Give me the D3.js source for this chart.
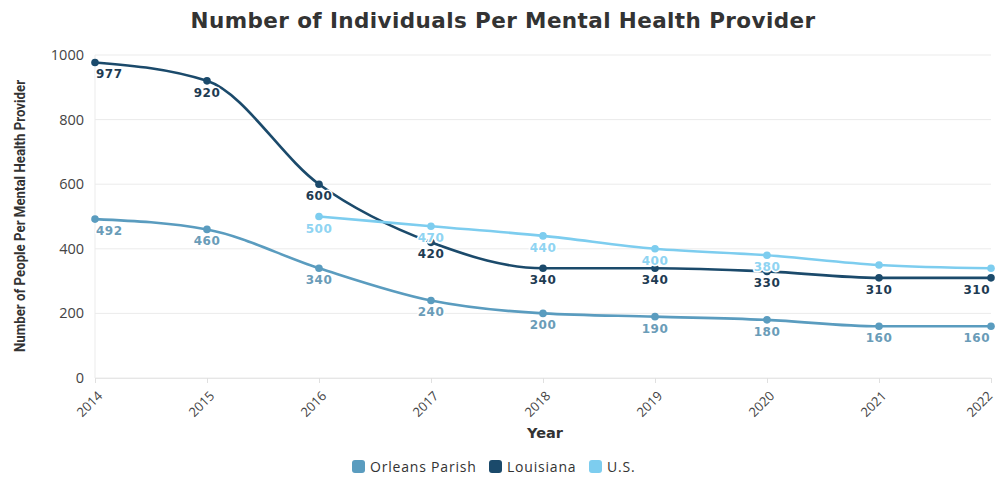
<!DOCTYPE html>
<html><head><meta charset="utf-8">
<script src="https://cdn.jsdelivr.net/npm/d3@7"></script>
<style>
body{margin:0;background:#fff;}
svg{display:block;}
</style></head>
<body><svg id="c" width="998" height="478"></svg>
<script>
const years = ["2014","2015","2016","2017","2018","2019","2020","2021","2022"];
const orleans = [492,460,340,240,200,190,180,160,160];
const louisiana = [977,920,600,420,340,340,330,310,310];
const us = [null,null,500,470,440,400,380,350,340];
const usLabels = [true,true,true,true,true,true,true,false,false];
const yTicks = [0,200,400,600,800,1000];
const seriesNames = ["Orleans Parish","Louisiana","U.S."];
const lineColors = ["#5a9cbf","#1b4a6b","#7dcdef"];
const labelColors = ["#6a9cb8","#1e3b52","#8fd4f2"];

const svg = d3.select("#c");
const x = d3.scalePoint().domain(years).range([95,991]);
const y = d3.scaleLinear().domain([0,1000]).range([378,55]);

svg.append("text").attr("x",503).attr("y",28).attr("text-anchor","middle")
  .attr("font-family","DejaVu Sans").attr("font-weight","bold").attr("font-size",21.5)
  .attr("letter-spacing",0.4)
  .attr("fill","#333").text("Number of Individuals Per Mental Health Provider");

// grid
svg.append("g").selectAll("line").data(yTicks).join("line")
  .attr("x1",95).attr("x2",991).attr("y1",d=>y(d)).attr("y2",d=>y(d))
  .attr("stroke","#ebebeb").attr("stroke-width",1);
svg.append("line").attr("x1",95).attr("x2",95).attr("y1",55).attr("y2",378).attr("stroke","#ebebeb");

// y axis labels
svg.append("g").selectAll("text").data(yTicks).join("text")
  .attr("x",84).attr("y",d=>y(d)+5).attr("text-anchor","end")
  .attr("font-family","Open Sans, DejaVu Sans").attr("font-size",14.5).attr("fill","#444")
  .text(d=>d);

// x axis
const xa = svg.append("g").attr("transform","translate(0,378)")
  .call(d3.axisBottom(x).tickSize(5).tickSizeOuter(0));
xa.select(".domain").attr("stroke","#e6e6e6");
xa.selectAll(".tick line").attr("stroke","#e0e0e0");
xa.selectAll(".tick text").attr("font-family","Open Sans, DejaVu Sans").attr("font-size",13)
  .attr("fill","#444").attr("text-anchor","end").attr("dy",0).attr("dx",0)
  .attr("transform",(d,i)=> i===years.length-1 ? "translate(-4,13) rotate(-45)" : "translate(2,13) rotate(-45)");

svg.append("text").attr("x",545).attr("y",438).attr("text-anchor","middle")
  .attr("font-family","DejaVu Sans").attr("font-weight","bold").attr("font-size",14.5)
  .attr("fill","#333").text("Year");

svg.append("text").attr("transform","translate(25,216) rotate(-90)").attr("text-anchor","middle")
  .attr("font-family","Liberation Sans Narrow, Roboto, sans-serif").attr("font-weight","bold").attr("font-size",15)
  .attr("fill","#333").attr("textLength",272).attr("lengthAdjust","spacingAndGlyphs")
  .text("Number of People Per Mental Health Provider");

const data = [orleans, louisiana, us];
const line = d3.line().defined(d=>d[1]!=null).x(d=>x(d[0])).y(d=>y(d[1])).curve(d3.curveMonotoneX);

data.forEach((vals,i)=>{
  const pts = years.map((yr,j)=>[yr,vals[j]]);
  svg.append("path").datum(pts).attr("d",line).attr("fill","none")
    .attr("stroke",lineColors[i]).attr("stroke-width",2.6);
  svg.append("g").selectAll("circle").data(pts.filter(p=>p[1]!=null)).join("circle")
    .attr("cx",p=>x(p[0])).attr("cy",p=>y(p[1])).attr("r",3.8).attr("fill",lineColors[i]);
});

// labels
data.forEach((vals,i)=>{
  const pts = years.map((yr,j)=>({yr,v:vals[j],j})).filter(p=>p.v!=null && (i!==2 || usLabels[p.j]));
  svg.append("g").selectAll("text").data(pts).join("text")
    .attr("x",p=> p.j===0 ? x(p.yr)+1 : (p.j===years.length-1 ? x(p.yr)-1 : x(p.yr)))
    .attr("y",p=>y(p.v)+16)
    .attr("text-anchor",p=> p.j===0 ? "start" : (p.j===years.length-1 ? "end" : "middle"))
    .attr("font-family","DejaVu Sans").attr("font-weight","bold").attr("font-size",12)
    .attr("letter-spacing",0.5)
    .attr("fill",labelColors[i]).attr("stroke","#fff").attr("stroke-width",3)
    .attr("paint-order","stroke").attr("stroke-linejoin","round")
    .text(p=>p.v);
});

// legend
const lg = svg.append("g").attr("transform","translate(352,468)");
const legX = [0,137,237];
seriesNames.forEach((n,i)=>{
  lg.append("rect").attr("x",legX[i]).attr("y",-8).attr("width",13).attr("height",13).attr("rx",3)
    .attr("fill",lineColors[i]);
  lg.append("text").attr("x",legX[i]+18).attr("y",4).attr("font-family","Open Sans, DejaVu Sans")
    .attr("font-size",14).attr("letter-spacing",0.8).attr("fill","#333").text(n);
});
</script></body></html>
